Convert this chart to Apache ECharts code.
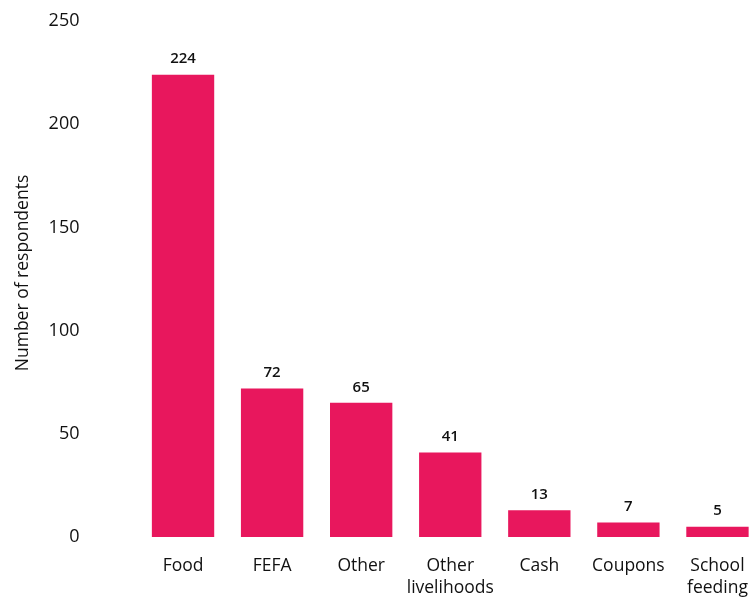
<!DOCTYPE html>
<html><head><meta charset="utf-8">
<script src="https://cdn.jsdelivr.net/npm/echarts@6/dist/echarts.min.js"></script>
<style>html,body{margin:0;padding:0;background:#fff}#c{width:752px;height:599px}</style>
</head><body><div id="c"></div>
<script>
const categories = ['Food', 'FEFA', 'Other', 'Other\nlivelihoods', 'Cash', 'Coupons', 'School\nfeeding'];
const values = [224, 72, 65, 41, 13, 7, 5];
const yTicks = [0, 50, 100, 150, 200, 250];
const chart = echarts.init(document.getElementById('c'));
const font = '"Open Sans", "Noto Sans", sans-serif';
chart.setOption({
  animation: false,
  grid: { left: 138.5, top: 21, bottom: 62, width: 623.5, outerBoundsMode: 'none', containLabel: false },
  xAxis: {
    type: 'category', data: categories,
    axisLine: { show: false }, axisTick: { show: false },
    axisLabel: { color: '#111', fontFamily: font, fontSize: 17.5, margin: 18, lineHeight: 22, interval: 0 }
  },
  yAxis: {
    type: 'value', min: yTicks[0], max: yTicks[yTicks.length - 1], interval: 50,
    splitLine: { show: false }, axisLine: { show: false }, axisTick: { show: false },
    axisLabel: { color: '#111', fontFamily: font, fontSize: 18, margin: 59 },
    name: 'Number of respondents', nameLocation: 'middle', nameGap: 106,
    nameTextStyle: { color: '#111', fontFamily: font, fontSize: 17.5, padding: [0, 0, 0, 12] }
  },
  series: [{
    type: 'bar', data: values, barCategoryGap: '30%',
    itemStyle: { color: '#E8175D' },
    label: { show: true, position: 'top', distance: 8, color: '#111', fontFamily: font, fontSize: 15, fontWeight: 600 }
  }]
});
</script></body></html>
